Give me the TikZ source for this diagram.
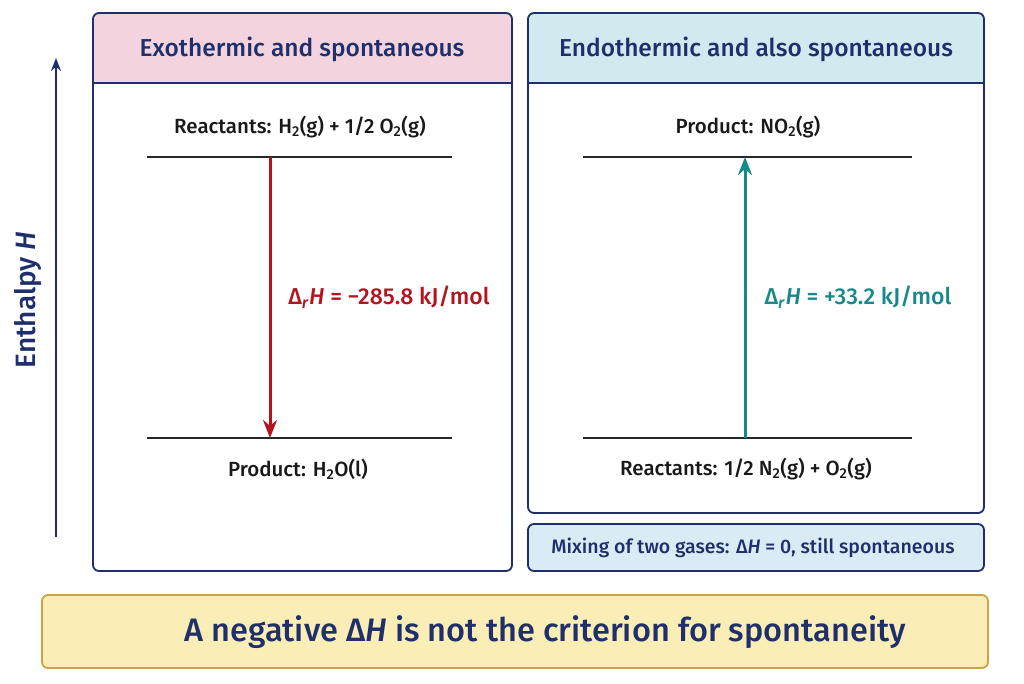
\documentclass[tikz,border=0pt]{standalone}
\usepackage{fontspec}
\setmainfont{Fira Sans}[BoldFont={Fira Sans Medium}]
\usetikzlibrary{arrows.meta}
\definecolor{navy}{HTML}{1F2F6B}
\definecolor{pinkh}{HTML}{F3D4DE}
\definecolor{cyanh}{HTML}{D2EAEF}
\definecolor{redA}{HTML}{B3141E}
\definecolor{tealA}{HTML}{17898A}
\definecolor{yel}{HTML}{FBEDB6}
\definecolor{yelb}{HTML}{C9A24A}
\definecolor{mixf}{HTML}{D9ECF6}
\begin{document}
\begin{tikzpicture}[x=1pt,y=-1pt,
  panel/.style={draw=navy,line width=1.8pt,rounded corners=6pt},
  level/.style={draw=black!85,line width=2.2pt},
  lbl/.style={font=\bfseries\fontsize{20.5}{24}\selectfont,text=black!90},
  ttl/.style={font=\bfseries\fontsize{24.5}{28}\selectfont,text=navy}]
\useasboundingbox (0,0) rectangle (1024,683);
% left panel
\begin{scope}\clip (80,0) rectangle (520,83);
\fill[pinkh,rounded corners=6pt] (93,13) rectangle (512,571);\end{scope}
\draw[panel] (93,13) rectangle (512,571);
\draw[navy,line width=1.8pt] (93,83) -- (512,83);
\node[ttl] (t1) at (302,49) {Exothermic and spontaneous};
% right panel
\begin{scope}\clip (520,0) rectangle (990,83);
\fill[cyanh,rounded corners=6pt] (528,13) rectangle (984,513);\end{scope}
\draw[panel] (528,13) rectangle (984,513);
\draw[navy,line width=1.8pt] (528,83) -- (984,83);
\node[ttl] (t2) at (756,49) {Endothermic and also spontaneous};
% mixing box
\draw[panel,fill=mixf] (528,524) rectangle (984,571);
\node[font=\bfseries\fontsize{19.5}{22}\selectfont,text=navy] (mix) at (753,548) {Mixing of two gases: Δ\textit{H} = 0, still spontaneous};
% bottom
\draw[draw=yelb,line width=1.8pt,rounded corners=6pt,fill=yel] (42,595) rectangle (988,668);
\node[font=\bfseries\fontsize{32.5}{36}\selectfont,text=navy] (bot) at (545,632) {A negative Δ\textit{H} is not the criterion for spontaneity};
% axis
\coordinate (a0) at (56,537); \coordinate (a1) at (56,58);
\draw[navy,line width=2pt,-{Stealth[length=13pt,width=10pt]}] (a0) -- (a1);
\node[font=\bfseries\fontsize{28}{32}\selectfont,text=navy,rotate=90] (ax) at (28,300) {Enthalpy \textit{H}};
% left levels
\coordinate (l1a) at (147,157); \coordinate (l1b) at (452,157);
\coordinate (l2a) at (147,438); \coordinate (l2b) at (452,438);
\draw[level] (l1a) -- (l1b); \draw[level] (l2a) -- (l2b);
\coordinate (ls) at (270,157); \coordinate (le) at (270,438);
\draw[redA,line width=3pt,-{Stealth[length=18pt,width=14pt]}] (ls) -- (le);
\node[lbl] (r1) at (300,127) {Reactants: H\textsubscript{2}(g) + 1/2 O\textsubscript{2}(g)};
\node[lbl] (p1) at (298,469) {Product: H\textsubscript{2}O(l)};
\node[font=\bfseries\fontsize{23}{26}\selectfont,text=redA] (d1) at (389,297) {Δ\textsubscript{\textit{r}}\textit{H} = −285.8 kJ/mol};
% right levels
\coordinate (m1a) at (583,157); \coordinate (m1b) at (912,157);
\coordinate (m2a) at (583,438); \coordinate (m2b) at (912,438);
\draw[level] (m1a) -- (m1b); \draw[level] (m2a) -- (m2b);
\coordinate (rs) at (745,438); \coordinate (re) at (745,157);
\draw[tealA,line width=3pt,-{Stealth[length=18pt,width=14pt]}] (rs) -- (re);
\node[lbl] (p2) at (748,127) {Product: NO\textsubscript{2}(g)};
\node[lbl] (r2) at (746,469) {Reactants: 1/2 N\textsubscript{2}(g) + O\textsubscript{2}(g)};
\node[font=\bfseries\fontsize{23}{26}\selectfont,text=tealA] (d2) at (858,297) {Δ\textsubscript{\textit{r}}\textit{H} = +33.2 kJ/mol};
\end{tikzpicture}
\end{document}
